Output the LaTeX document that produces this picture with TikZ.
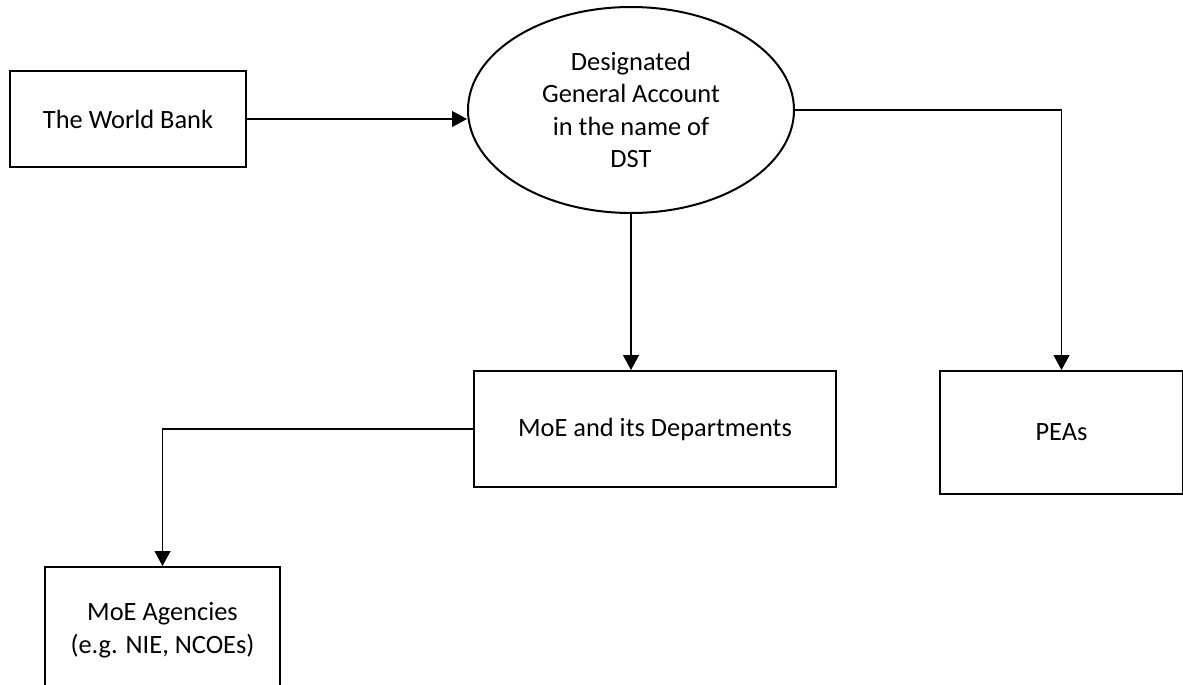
\documentclass[tikz,border=0pt]{standalone}
\usepackage{fontspec}
\setmainfont{Carlito}
\usetikzlibrary{shapes.geometric,arrows.meta}
\tikzset{
  boxnode/.style={draw=black, line width=1pt, rectangle, inner sep=0pt, align=center,
    font=\fontsize{13.2}{16.25}\selectfont},
  ellnode/.style={draw=black, line width=1pt, ellipse, inner sep=0pt, align=center,
    font=\fontsize{13.2}{16.25}\selectfont},
  conn/.style={draw=black, line width=0.6pt, -{Triangle[width=8pt,length=7.5pt]}}
}
\begin{document}
\begin{tikzpicture}[x=0.5pt,y=-0.5pt]
\clip (0,0) rectangle (1183,685);
\fill[white] (0,0) rectangle (1183,685);
\node[boxnode, minimum width=118pt, minimum height=48pt] (wb) at (128,119) {The World Bank};
\node[ellnode, minimum width=163pt, minimum height=103pt] (ell) at (631,110) {Designated\\General Account\\in the name of\\DST};
\node[boxnode, minimum width=181pt, minimum height=58pt] (moe) at (655,429) {MoE and its Departments};
\node[boxnode, minimum width=121.5pt, minimum height=61.5pt] (peas) at (1061.5,432.5) {PEAs};
\node[boxnode, minimum width=117.5pt, minimum height=63pt] (ag) at (162.5,630) {MoE Agencies\\(e.g. NIE, NCOEs)};
\draw[conn] (wb.east) -- (wb.east -| ell.west);
\draw[conn] (ell.south) -- (ell.south |- moe.north);
\draw[conn] (ell.east) -| (peas.north);
\draw[conn] (moe.west) -| (ag.north);
\end{tikzpicture}
\end{document}
